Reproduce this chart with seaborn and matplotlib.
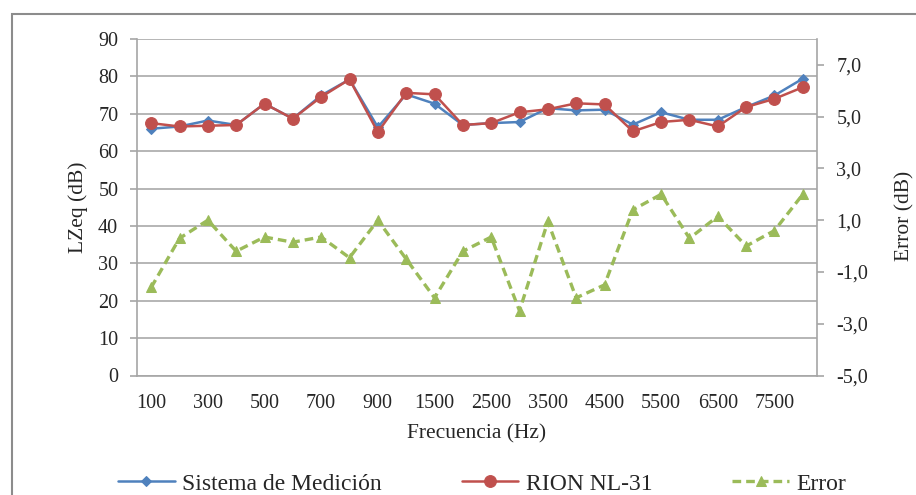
import matplotlib
matplotlib.use("Agg")
import matplotlib.pyplot as plt
import seaborn as sns
import pandas as pd
from matplotlib.patches import Rectangle
from matplotlib.ticker import FuncFormatter

# Valores
frecuencias = ["100", "200", "300", "400", "500", "600", "700", "800", "900", "1000",
               "1500", "2000", "2500", "3000", "3500", "4000", "4500", "5000", "5500",
               "6000", "6500", "7000", "7500", "8000"]
sistema = [66.0, 66.6, 68.2, 67.0, 72.7, 68.7, 74.9, 79.2, 66.4, 75.2, 72.7, 67.0,
           67.5, 67.8, 71.5, 70.9, 71.1, 67.1, 70.4, 68.4, 68.4, 71.8, 74.9, 79.4]
rion = [67.5, 66.6, 66.8, 67.0, 72.7, 68.7, 74.5, 79.2, 65.1, 75.6, 75.2, 67.0,
        67.5, 70.4, 71.2, 72.8, 72.5, 65.3, 67.8, 68.4, 66.6, 71.8, 74.0, 77.1]
error = [-1.6, 0.3, 1.0, -0.2, 0.35, 0.15, 0.35, -0.45, 1.0, -0.5, -2.0, -0.2,
         0.35, -2.5, 0.95, -2.0, -1.5, 1.4, 2.0, 0.3, 1.15, 0.0, 0.6, 2.0]

sns.set_style("white")
plt.rcParams["font.family"] = ["Liberation Serif", "DejaVu Serif"]

df = pd.DataFrame({"Frecuencia": frecuencias, "Sistema": sistema,
                   "RION": rion, "Error": error})

fig = plt.figure(figsize=(9.16, 4.95), dpi=100)
ax = fig.add_axes([137 / 916, 1 - 375.5 / 495, 680 / 916, 336.5 / 495])
ax2 = ax.twinx()

blue, red, green = "#4F81BD", "#C0504D", "#9BBB59"
grey = "#a6a6a6"

sns.lineplot(data=df, x="Frecuencia", y="Sistema", ax=ax, sort=False, legend=False,
             color=blue, lw=1.8, marker="D", markersize=5.5, markeredgecolor=blue,
             label="Sistema de Medición")
sns.lineplot(data=df, x="Frecuencia", y="RION", ax=ax, sort=False, legend=False,
             color=red, lw=1.8, marker="o", markersize=8.5, markeredgecolor=red,
             label="RION NL-31")
sns.lineplot(data=df, x="Frecuencia", y="Error", ax=ax2, sort=False, legend=False,
             color=green, lw=2.4, dashes=(2.6, 1.5), marker="^", markersize=7.5,
             markeredgecolor=green, label="Error")

# eje izquierdo
ax.set_ylim(0, 90)
ax.set_yticks(range(0, 91, 10))
ax.set_xlim(-0.5, len(frecuencias) - 0.5)
ax.set_xticks(range(0, len(frecuencias), 2))
ax.set_xticklabels(frecuencias[::2])
ax.set_xticks([i - 0.5 for i in range(len(frecuencias) + 1)], minor=True)
ax.tick_params(axis="x", which="major", length=0, pad=13, labelsize=14.5)
ax.tick_params(axis="x", which="minor", length=5, direction="out", color=grey, width=1.2)
ax.tick_params(axis="y", length=5, direction="out", color=grey, width=1.2, pad=8.5,
               labelsize=14.5, left=True)
ax.grid(axis="y", color="#b5b5b5", lw=1.4)
ax.grid(axis="x", visible=False)
ax.set_axisbelow(True)
for s in ["top", "right"]:
    ax.spines[s].set_visible(False)
for s in ["left", "bottom"]:
    ax.spines[s].set_color(grey)
    ax.spines[s].set_linewidth(1.2)

# eje derecho (error)
ax2.set_ylim(-5, 8)
ax2.set_yticks(range(-5, 8, 2))
ax2.yaxis.set_major_formatter(FuncFormatter(lambda v, p: f"{v:.1f}".replace(".", ",")))
ax2.tick_params(axis="y", length=5, direction="out", color=grey, width=1.2, pad=9,
                labelsize=14.5, right=True)
ax2.grid(False)
for s in ["top", "left", "bottom"]:
    ax2.spines[s].set_visible(False)
ax2.spines["right"].set_color(grey)
ax2.spines["right"].set_linewidth(1.2)

# etiquetas
ax.set_xlabel("Frecuencia (Hz)", fontsize=15.5)
ax.xaxis.set_label_coords(0.5, (375.5 - 434) / 336.5)
ax.xaxis.label.set_va("center")
ax.set_ylabel("LZeq (dB)", fontsize=15.5)
ax.yaxis.set_label_coords((78 - 137) / 680, 0.5)
ax.yaxis.label.set_va("center")
ax2.set_ylabel("Error (dB)", fontsize=15.5, rotation=90)
ax2.yaxis.set_label_coords((905 - 137) / 680, (375.5 - 216) / 336.5)
ax2.yaxis.label.set_va("center")

# leyenda
h1, l1 = ax.get_legend_handles_labels()
h2, l2 = ax2.get_legend_handles_labels()
fig.legend(h1 + h2, l1 + l2, loc="center", bbox_to_anchor=(482 / 916, 1 - 484 / 495),
           ncol=3, frameon=False, fontsize=17, handlelength=2.4, handletextpad=0.3,
           columnspacing=3.4, borderaxespad=0)

# marco exterior del grafico
fig.add_artist(Rectangle((12 / 916, -0.1), 1.2, 0.1 + 1 - 14 / 495,
                         transform=fig.transFigure, fill=False,
                         edgecolor="#8c8c8c", lw=1.5))

fig.savefig("out.png", dpi=100)
